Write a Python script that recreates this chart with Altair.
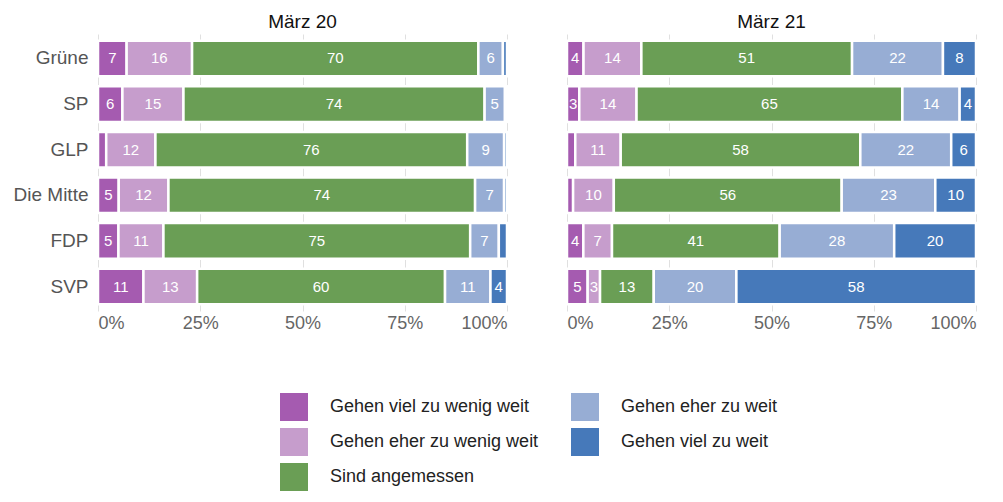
import altair as alt
import pandas as pd

parties = ["Grüne", "SP", "GLP", "Die Mitte", "FDP", "SVP"]
cats = ["Gehen viel zu wenig weit", "Gehen eher zu wenig weit", "Sind angemessen",
        "Gehen eher zu weit", "Gehen viel zu weit"]
colors = ["#A55BB0", "#C69DCC", "#6A9E55", "#97ADD4", "#4679BA"]
panels = ["März 20", "März 21"]

viel_zu_wenig_20 = [7, 6, 2, 5, 5, 11]
eher_zu_wenig_20 = [16, 15, 12, 12, 11, 13]
angemessen_20 = [70, 74, 76, 74, 75, 60]
eher_zu_weit_20 = [6, 5, 9, 7, 7, 11]
viel_zu_weit_20 = [1, 0.5, 0.7, 0.7, 2, 4]

viel_zu_wenig_21 = [4, 3, 2, 1.5, 4, 5]
eher_zu_wenig_21 = [14, 14, 11, 10, 7, 3]
angemessen_21 = [51, 65, 58, 56, 41, 13]
eher_zu_weit_21 = [22, 14, 22, 23, 28, 20]
viel_zu_weit_21 = [8, 4, 6, 10, 20, 58]

series = {
    "März 20": [viel_zu_wenig_20, eher_zu_wenig_20, angemessen_20, eher_zu_weit_20, viel_zu_weit_20],
    "März 21": [viel_zu_wenig_21, eher_zu_wenig_21, angemessen_21, eher_zu_weit_21, viel_zu_weit_21],
}

rows = []
for p in panels:
    for ci, c in enumerate(cats):
        for pi, party in enumerate(parties):
            rows.append({"panel": p, "party": party, "cat": c, "ord": ci,
                         "value": series[p][ci][pi]})
df = pd.DataFrame(rows)

FONT = "Liberation Sans"

base = alt.Chart().transform_joinaggregate(
    total="sum(value)", groupby=["panel", "party"]
).transform_calculate(
    pct="datum.value / datum.total",
    label="format(datum.value, '.0f')"
).transform_stack(
    stack="pct", groupby=["panel", "party"], sort=[alt.SortField("ord", order="ascending")],
    as_=["x0", "x1"]
).transform_calculate(
    mid="(datum.x0 + datum.x1) / 2"
)

yenc = alt.Y("party:N", sort=parties, title=None,
             scale=alt.Scale(paddingInner=0.22, paddingOuter=0.147),
             axis=alt.Axis(labelFontSize=19, labelColor="#555555", labelFont=FONT,
                           domain=False, ticks=False, labelPadding=8))

bars = base.mark_bar(stroke="white", strokeWidth=2.5).encode(
    x=alt.X("x0:Q", scale=alt.Scale(domain=[0, 1]), title=None,
            axis=alt.Axis(format="%", values=[0, 0.25, 0.5, 0.75, 1], labelFontSize=18,
                          labelColor="#666666", labelFont=FONT, domain=False, ticks=False,
                          grid=True, gridColor="#e0e0e0", labelPadding=3)),
    x2="x1:Q",
    y=yenc,
    color=alt.Color("cat:N", scale=alt.Scale(domain=cats, range=colors),
                    legend=alt.Legend(title=None, orient="none", legendX=182, legendY=359,
                                      columns=2, symbolType="square", symbolSize=784,
                                      symbolStrokeWidth=0, labelFontSize=18, labelFont=FONT,
                                      labelColor="#222222", rowPadding=7, columnPadding=32,
                                      labelOffset=22, labelLimit=400)),
)

texts = base.transform_filter("datum.value >= 3").mark_text(
    color="white", fontSize=15, font=FONT
).encode(
    x=alt.X("mid:Q"),
    y=alt.Y("party:N", sort=parties),
    text="label:N",
)

chart = alt.layer(bars, texts, data=df).properties(
    width=409, height=277
).facet(
    column=alt.Column("panel:N", sort=panels, title=None,
                      header=alt.Header(labelFontSize=19, labelFont=FONT, labelColor="#111111",
                                        labelPadding=2))
).resolve_axis(x="independent").configure_facet(spacing=56).configure_view(stroke=None)

chart.save("out.html", embed_options={"renderer": "svg", "actions": False})
